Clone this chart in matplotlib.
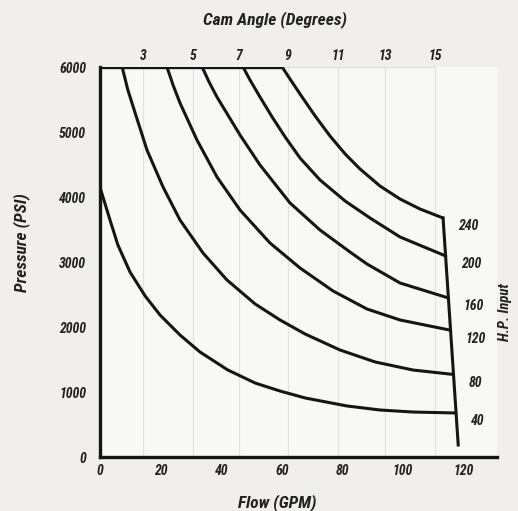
import matplotlib
matplotlib.use('Agg')
import matplotlib.pyplot as plt
from matplotlib import font_manager

# pick a condensed face if one is installed
fonts = font_manager.fontManager.ttflist
names = set(f.name for f in fonts)
stretch = 'normal'
fam = ['Liberation Sans', 'DejaVu Sans']
for cand in ['Liberation Sans Narrow', 'Roboto Condensed', 'Open Sans Condensed']:
    if cand in names:
        fam = [cand, 'DejaVu Sans']
        break
else:
    if any(f.name == 'DejaVu Sans' and f.stretch == 'condensed' for f in fonts):
        fam = ['DejaVu Sans']
        stretch = 'condensed'
plt.rcParams['font.family'] = fam

# HP curves: flow (GPM) and pressure (PSI)
hp_labels = ['40', '80', '120', '160', '200', '240']

q40 = [0, 3.3, 5.9, 9.9, 14.9, 19.8, 26.4, 33.0, 42.2, 51.2, 59.4, 67.7, 81.5, 92.4, 103.3, 117.4]
p40 = [4150, 3646, 3262, 2846, 2477, 2185, 1877, 1615, 1338, 1138, 1015, 908, 785, 723, 692, 677]

q80 = [7.3, 9.2, 11.6, 15.5, 20.8, 26.4, 34.0, 41.9, 51.2, 59.4, 67.7, 79.2, 90.8, 103.3, 116.6]
p80 = [6000, 5646, 5292, 4723, 4154, 3646, 3138, 2723, 2354, 2108, 1892, 1646, 1462, 1338, 1270]

q120 = [22.1, 24.1, 26.4, 32.0, 38.6, 46.2, 56.1, 66.0, 76.9, 88.1, 99.0, 115.7]
p120 = [6000, 5723, 5446, 4877, 4308, 3800, 3292, 2908, 2554, 2277, 2108, 1950]

q160 = [33.7, 36.0, 38.6, 46.2, 52.8, 62.7, 72.6, 82.5, 88.1, 99.0, 115.0]
p160 = [6000, 5769, 5538, 4954, 4492, 3908, 3492, 3154, 2969, 2677, 2446]

q200 = [47.2, 49.5, 52.8, 56.8, 61.1, 66.0, 72.6, 80.9, 89.1, 99.0, 114.1]
p200 = [6000, 5800, 5538, 5231, 4923, 4600, 4262, 3938, 3677, 3385, 3092]

q240 = [60.1, 62.7, 66.0, 71.0, 75.9, 80.9, 85.8, 92.4, 99.0, 105.6, 113.2]
p240 = [6000, 5815, 5585, 5246, 4938, 4662, 4431, 4169, 3969, 3815, 3677]

curves_q = [q40, q80, q120, q160, q200, q240]
curves_p = [p40, p80, p120, p160, p200, p240]

# max-flow line and 6000 psi limit
maxflow_q = [113.2, 118.2]
maxflow_p = [3677, 185]
limit_q = [0, 60.1]
limit_p = [6000, 6000]

# cam angle scale on top (angle -> flow position)
cam_angles = ['3', '5', '7', '9', '11', '13', '15']
cam_flow = [14.2, 30.7, 45.9, 62.0, 78.5, 94.1, 110.6]

x_ticks = [0, 20, 40, 60, 80, 100, 120]
y_ticks = [0, 1000, 2000, 3000, 4000, 5000, 6000]

ink = '#151515'
txt = dict(fontweight='bold', fontstyle='italic', color='#222222', fontstretch=stretch)

fig = plt.figure(figsize=(5.18, 5.11), dpi=100, facecolor='#f1efec')
ax = fig.add_axes([100/518, 1-457/511, 397/518, 390/511])
ax.set_facecolor('#f8f8f6')

# faint grid
for qf in cam_flow:
    ax.plot([qf, qf], [0, 6000], color='#e2e2e0', lw=0.8, zorder=1)
ax.plot([60.1, cam_flow[-1]], [6000, 6000], color='#dcdcda', lw=0.8, zorder=1)

for q, p in zip(curves_q, curves_p):
    ax.plot(q, p, color=ink, lw=2.2, solid_capstyle='round', solid_joinstyle='round', zorder=3)
ax.plot(maxflow_q, maxflow_p, color=ink, lw=2.2, zorder=3)
ax.plot(limit_q, limit_p, color=ink, lw=2.4, zorder=3)

for lab, q, p in zip(hp_labels, curves_q, curves_p):
    ax.annotate(lab, (q[-1], p[-1]), xytext=(11, -6), textcoords='offset points',
                ha='left', va='center', fontsize=10, **txt)

ax.set_xlim(0, 131)
ax.set_ylim(0, 6000)
ax.set_xticks(x_ticks)
ax.set_yticks(y_ticks)
ax.set_xticklabels([str(v) for v in x_ticks], fontsize=10, **txt)
ax.set_yticklabels([str(v) for v in y_ticks], fontsize=10, **txt)
ax.tick_params(axis='y', length=0, pad=10)
ax.tick_params(axis='x', length=0, pad=5)
for s in ['top', 'right']:
    ax.spines[s].set_visible(False)
for s in ['left', 'bottom']:
    ax.spines[s].set_linewidth(2.4)
    ax.spines[s].set_color(ink)

ax2 = ax.twiny()
ax2.set_xlim(ax.get_xlim())
ax2.set_xticks(cam_flow)
ax2.set_xticklabels(cam_angles, fontsize=10, **txt)
ax2.tick_params(length=0, pad=3)
for s in ax2.spines.values():
    s.set_visible(False)

fig.text(275/518, 1-20/511, 'Cam Angle (Degrees)', ha='center', va='center', fontsize=12.5, **txt)
fig.text(277/518, 1-503/511, 'Flow (GPM)', ha='center', va='center', fontsize=12.5, **txt)
fig.text(22/518, 1-243/511, 'Pressure (PSI)', ha='center', va='center', rotation=90, fontsize=12.5, **txt)
fig.text(505/518, 1-312/511, 'H.P. Input', ha='center', va='center', rotation=90, fontsize=10.5, **txt)

fig.savefig('out.png', dpi=100, facecolor=fig.get_facecolor())
